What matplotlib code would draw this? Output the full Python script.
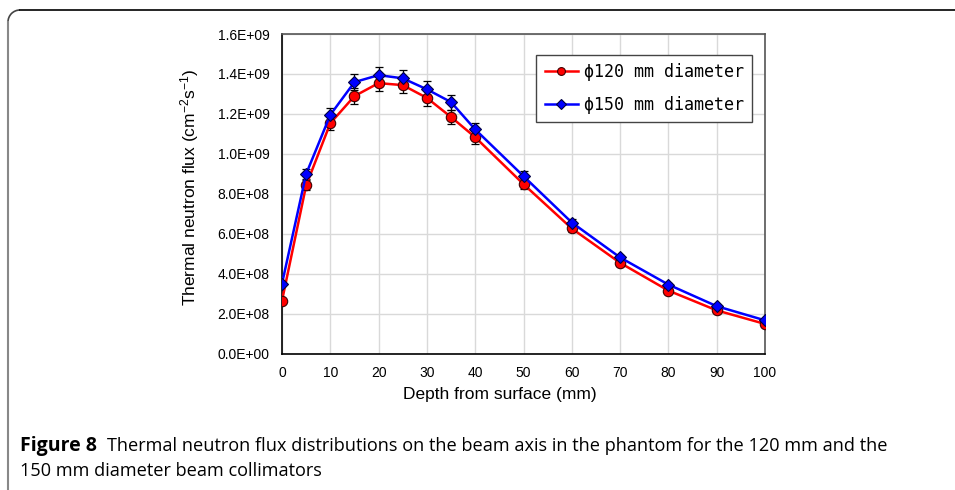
import matplotlib
matplotlib.use("Agg")
import matplotlib.pyplot as plt
from matplotlib.lines import Line2D
from matplotlib.patches import Arc
import numpy as np

depth = [0, 5, 10, 15, 20, 25, 30, 35, 40, 50, 60, 70, 80, 90, 100]
flux_120 = [2.64e8, 8.42e8, 1.153e9, 1.289e9, 1.354e9, 1.344e9, 1.280e9, 1.184e9, 1.083e9,
            8.48e8, 6.26e8, 4.54e8, 3.15e8, 2.16e8, 1.48e8]
flux_150 = [3.50e8, 8.99e8, 1.195e9, 1.359e9, 1.394e9, 1.378e9, 1.323e9, 1.259e9, 1.122e9,
            8.88e8, 6.56e8, 4.81e8, 3.45e8, 2.37e8, 1.66e8]
err_frac = 0.03
yticks = [0, 2e8, 4e8, 6e8, 8e8, 1.0e9, 1.2e9, 1.4e9, 1.6e9]
ytick_labels = ["0.0E+00", "2.0E+08", "4.0E+08", "6.0E+08", "8.0E+08",
                "1.0E+09", "1.2E+09", "1.4E+09", "1.6E+09"]
xticks = [0, 10, 20, 30, 40, 50, 60, 70, 80, 90, 100]
labels = ["\u03d5120 mm diameter", "\u03d5150 mm diameter"]

plt.rcParams['font.family'] = ['Liberation Sans', 'DejaVu Sans']
plt.rcParams['mathtext.default'] = 'regular'

fig = plt.figure(figsize=(9.55, 4.9), dpi=100)
ax = fig.add_axes([282/955, 1-353.5/490, (765-282)/955, (353.5-34)/490])

e120 = [v*err_frac for v in flux_120]
e150 = [v*err_frac for v in flux_150]

ax.errorbar(depth, flux_120, yerr=e120, fmt='none', ecolor='black', elinewidth=0.9,
            capsize=3, capthick=0.9, zorder=3)
ax.errorbar(depth, flux_150, yerr=e150, fmt='none', ecolor='black', elinewidth=0.9,
            capsize=3, capthick=0.9, zorder=3)
l1, = ax.plot(depth, flux_120, color='#ff0000', lw=1.8, marker='o', ms=7.5,
              mfc='#ff0000', mec='#400000', mew=0.8, zorder=4, label=labels[0])
l2, = ax.plot(depth, flux_150, color='#0000ff', lw=1.8, marker='D', ms=6.3,
              mfc='#0000ff', mec='#000040', mew=0.8, zorder=5, label=labels[1])

ax.set_xlim(0, 100)
ax.set_ylim(0, 1.6e9)
ax.set_xticks(xticks)
ax.set_xticklabels([str(t) for t in xticks], fontsize=10)
ax.set_yticks(yticks)
ax.set_yticklabels(ytick_labels, fontsize=10)
ax.tick_params(axis='y', length=0, pad=9)
ax.tick_params(axis='x', length=0, pad=9)
ax.grid(True, color='#d9d9d9', lw=1)
ax.set_axisbelow(True)
for s in ['left', 'bottom']:
    ax.spines[s].set_color('black')
    ax.spines[s].set_linewidth(1.2)
for s in ['top', 'right']:
    ax.spines[s].set_color('#555555')
    ax.spines[s].set_linewidth(1.2)

ax.set_xlabel("Depth from surface (mm)", fontsize=12.5)
ax.xaxis.set_label_coords((500-282)/(765-282), -0.105)
ax.set_ylabel("Thermal neutron flux (cm$^{-2}$s$^{-1}$)", fontsize=12.5)
ax.yaxis.set_label_coords(-(282-201)/(765-282), 0.52)

leg = ax.legend(handles=[l1, l2], loc='upper right', bbox_to_anchor=((752-282)/(765-282), 1-(55-34)/(353.5-34)),
                prop={'family': ['DejaVu Sans Mono'], 'size': 12}, frameon=True, fancybox=False,
                edgecolor='#444444', framealpha=1, borderpad=0.5, labelspacing=0.85,
                handlelength=2.0, handletextpad=0.35, borderaxespad=0, markerscale=0.75)
leg.get_frame().set_linewidth(1.0)

# figure border
W, H = 955, 490
r = 12
x0, y0 = 8, 10
fig.add_artist(Line2D([(x0+r)/W, 1.0], [1-y0/H, 1-y0/H], transform=fig.transFigure, color='black', lw=1.2))
fig.add_artist(Line2D([x0/W, x0/W], [1-(y0+r)/H, 0], transform=fig.transFigure, color='#888888', lw=1.5))
fig.add_artist(Arc(((x0+r)/W, 1-(y0+r)/H), 2*r/W, 2*r/H, theta1=90, theta2=180,
                   transform=fig.transFigure, color='#444444', lw=1.2))

cap_font = ['Open Sans', 'DejaVu Sans']
fig.text(20/W, 1-446/H, "Figure 8", fontsize=14, fontweight='bold', family=cap_font, va='center', ha='left')
fig.text(107/W, 1-446/H, "Thermal neutron flux distributions on the beam axis in the phantom for the 120 mm and the",
         fontsize=13.1, family=cap_font, va='center', ha='left')
fig.text(20/W, 1-471/H, "150 mm diameter beam collimators", fontsize=13.1, family=cap_font, va='center', ha='left')

fig.savefig("out.png", dpi=100)
